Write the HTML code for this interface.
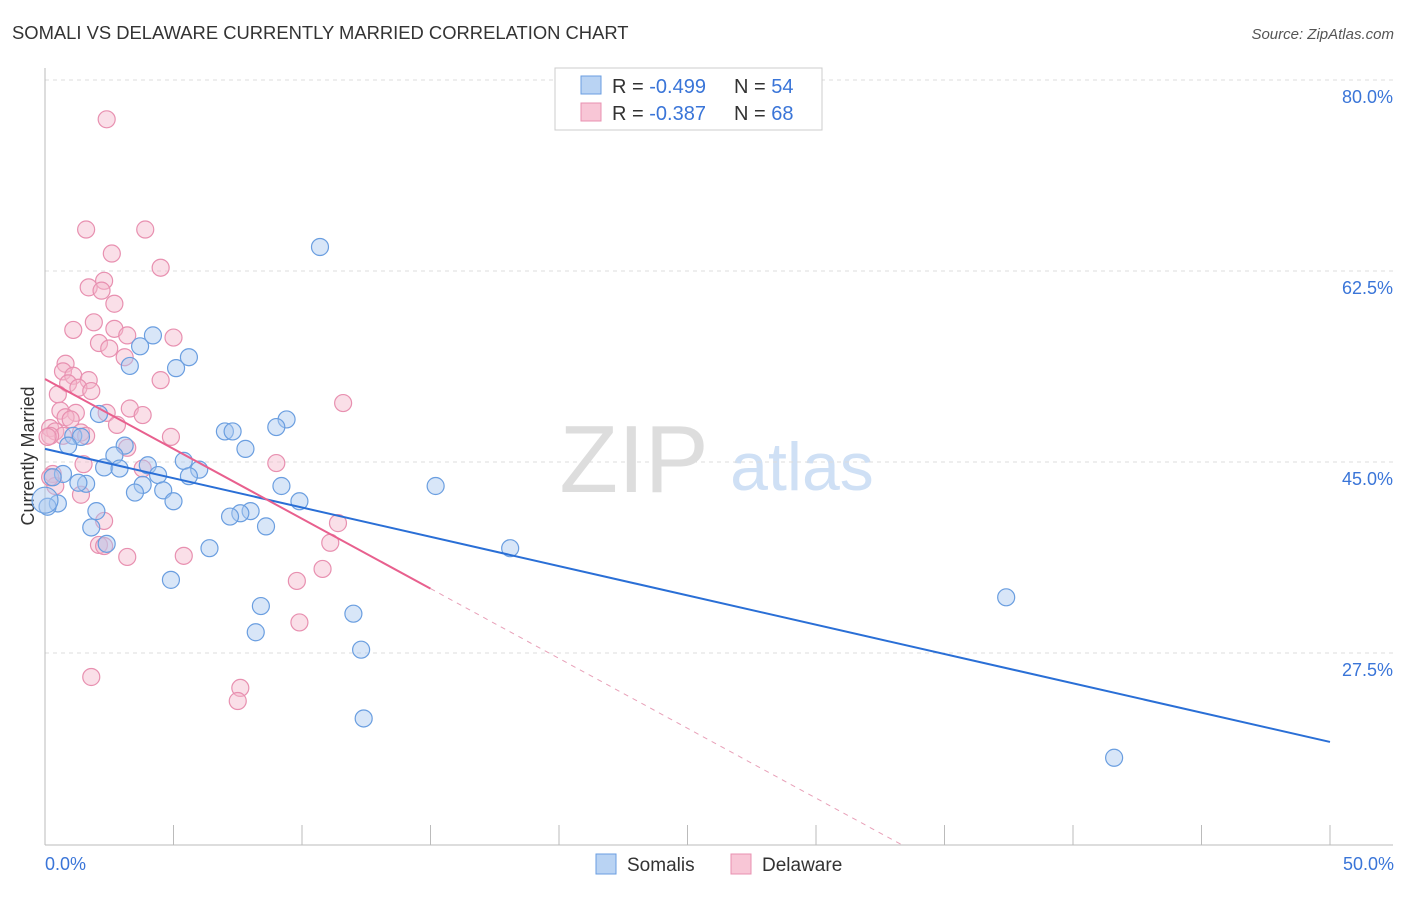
<!DOCTYPE html>
<html><head><meta charset="utf-8"><style>
body{margin:0;background:#fff;font-family:"Liberation Sans",sans-serif;}
svg text{font-family:"Liberation Sans",sans-serif;}
</style></head><body>
<svg id="chart" width="1406" height="892">
<text x="12" y="39" font-size="18.4" fill="#333">SOMALI VS DELAWARE CURRENTLY MARRIED CORRELATION CHART</text>
<text x="1394" y="39" font-size="15" fill="#555" font-style="italic" text-anchor="end">Source: ZipAtlas.com</text>
<text x="634" y="492" font-size="96" fill="#ddd" font-family="Liberation Serif" text-anchor="middle">ZIP</text>
<text x="802" y="490" font-size="68" fill="#cfe0f5" text-anchor="middle">atlas</text>
<text transform="translate(34,456) rotate(-90)" font-size="18" fill="#333" text-anchor="middle">Currently Married</text>
<g id="grid"></g><g id="pts"></g><g id="lines"></g>
<rect x="555" y="68" width="267" height="62" fill="#fff" stroke="#ccc"/>
<rect x="581" y="76" width="20" height="18" fill="#b9d3f3" stroke="#6a9ee0"/>
<rect x="581" y="103" width="20" height="18" fill="#f8c6d6" stroke="#e890b0"/>
<text x="612" y="93" font-size="20" fill="#333">R = <tspan fill="#3a75d8">-0.499</tspan><tspan x="734">N = </tspan><tspan fill="#3a75d8">54</tspan></text>
<text x="612" y="120" font-size="20" fill="#333">R = <tspan fill="#3a75d8">-0.387</tspan><tspan x="734">N = </tspan><tspan fill="#3a75d8">68</tspan></text>
<rect x="596" y="854" width="20" height="20" fill="#b9d3f3" stroke="#6a9ee0"/>
<text x="627" y="871" font-size="19" fill="#333">Somalis</text>
<rect x="731" y="854" width="20" height="20" fill="#f8c6d6" stroke="#e890b0"/>
<text x="762" y="871" font-size="19" fill="#333">Delaware</text>
<text x="45" y="870" font-size="18" fill="#3a75d8">0.0%</text>
<text x="1394" y="870" font-size="18" fill="#3a75d8" text-anchor="end">50.0%</text>
</svg>
<script>
const yTicks=[80,62.5,45,27.5];
const blueX=[10.7,4.2,3.7,5.6,5.1,3.3,2.1,9.4,9.0,7.0,7.3,1.1,1.4,7.8,3.1,2.7,0.9,5.4,4.0,2.3,2.9,6.0,4.4,5.6,0.7,0.3,1.6,1.3,3.8,3.5,4.6,5.0,9.2,9.9,15.2,0.5,0.1,2.0,8.0,7.6,7.2,8.6,1.8,2.4,6.4,18.1,4.9,8.4,12.0,8.2,37.4,12.3,12.4,41.6,0.0];
const blueY=[64.7,56.6,55.6,54.6,53.6,53.8,49.4,48.9,48.2,47.8,47.8,47.4,47.3,46.2,46.5,45.6,46.5,45.1,44.7,44.5,44.4,44.3,43.8,43.7,43.9,43.6,43.0,43.1,42.9,42.2,42.4,41.4,42.8,41.4,42.8,41.2,40.9,40.5,40.5,40.3,40.0,39.1,39.0,37.5,37.1,37.1,34.2,31.8,31.1,29.4,32.6,27.8,21.5,17.9,41.5];
const pinkX=[2.4,1.6,3.9,2.6,4.5,2.3,1.7,2.2,2.7,1.9,1.1,2.7,3.2,5.0,2.1,2.5,3.1,0.8,0.7,1.1,4.5,1.7,0.9,1.3,1.8,0.5,11.6,3.3,0.6,3.8,1.2,2.4,0.8,1.0,2.8,0.2,0.4,1.4,1.6,0.7,4.9,0.2,3.2,1.5,9.0,3.8,0.3,0.4,1.4,2.3,11.4,11.1,2.1,2.3,3.2,5.4,10.8,9.8,9.9,1.8,7.6,7.5,0.1,0.2];
const pinkY=[76.4,66.3,66.3,64.1,62.8,61.6,61.0,60.7,59.5,57.8,57.1,57.2,56.6,56.4,55.9,55.4,54.6,54.0,53.3,52.9,52.5,52.5,52.2,51.8,51.5,51.2,50.4,49.9,49.7,49.3,49.5,49.5,49.1,48.9,48.4,48.1,47.8,47.7,47.4,47.4,47.3,47.4,46.3,44.8,44.9,44.4,43.9,42.8,42.0,39.6,39.4,37.6,37.4,37.3,36.3,36.4,35.2,34.1,30.3,25.3,24.3,23.1,47.3,43.6];
const blueFit=[46.2,-0.537];
const pinkFit=[52.6,-1.28];
const X=v=>45+v*25.7, Y=v=>80+(80-v)*10.914;
const NS="http://www.w3.org/2000/svg";
function mk(t,a,p){const e=document.createElementNS(NS,t);for(const k in a)e.setAttribute(k,a[k]);p.appendChild(e);return e;}
const g=document.getElementById('grid');
yTicks.forEach(t=>{
 const l=mk('line',{x1:45,x2:1393,y1:Y(t),y2:Y(t),stroke:'#ddd','stroke-dasharray':'4,4'},g);
 
 
 const tx=mk('text',{x:1393,y:Y(t)+23,'font-size':18,fill:'#3a75d8','text-anchor':'end'},g);
 tx.textContent=t.toFixed(1)+'%';
 
 
});
const ax=mk('line',{x1:45,x2:45,y1:68,y2:845,stroke:'#bbb'},g);


const bx=mk('line',{x1:45,x2:1393,y1:845,y2:845,stroke:'#bbb'},g);


for(let i=0;i<=10;i++){
 const tk=mk('line',{x1:X(i*5),x2:X(i*5),y1:825,y2:845,stroke:'#bbb'},g);
 
 
}
const P=document.getElementById('pts');
function dots(xs,ys,fill,stroke,name){xs.forEach((x,i)=>{
 const c=mk('circle',{cx:X(x),cy:Y(ys[i]),r:(i==xs.length-1&&name=='somali-point')?13:8.5,fill:fill,'fill-opacity':0.45,stroke:stroke,'stroke-width':1.2},P);
 
 
});}
dots(pinkX,pinkY,'#f4b8cc','#e890b0','delaware-point');
dots(blueX,blueY,'#a9c8f0','#6a9ee0','somali-point');
const L=document.getElementById('lines');
const b=mk('line',{x1:X(0),y1:Y(blueFit[0]),x2:X(50),y2:Y(blueFit[0]+blueFit[1]*50),stroke:'#2a6fd6','stroke-width':2},L);


const p=mk('line',{x1:X(0),y1:Y(pinkFit[0]),x2:X(15),y2:Y(pinkFit[0]+pinkFit[1]*15),stroke:'#e8608e','stroke-width':2},L);


const xe=(pinkFit[0]-9.9)/-pinkFit[1];
const pd=mk('line',{x1:X(15),y1:Y(pinkFit[0]+pinkFit[1]*15),x2:X(xe),y2:Y(9.9),stroke:'#e8a0b8','stroke-width':1,'stroke-dasharray':'5,5'},L);


</script>
</body></html>
